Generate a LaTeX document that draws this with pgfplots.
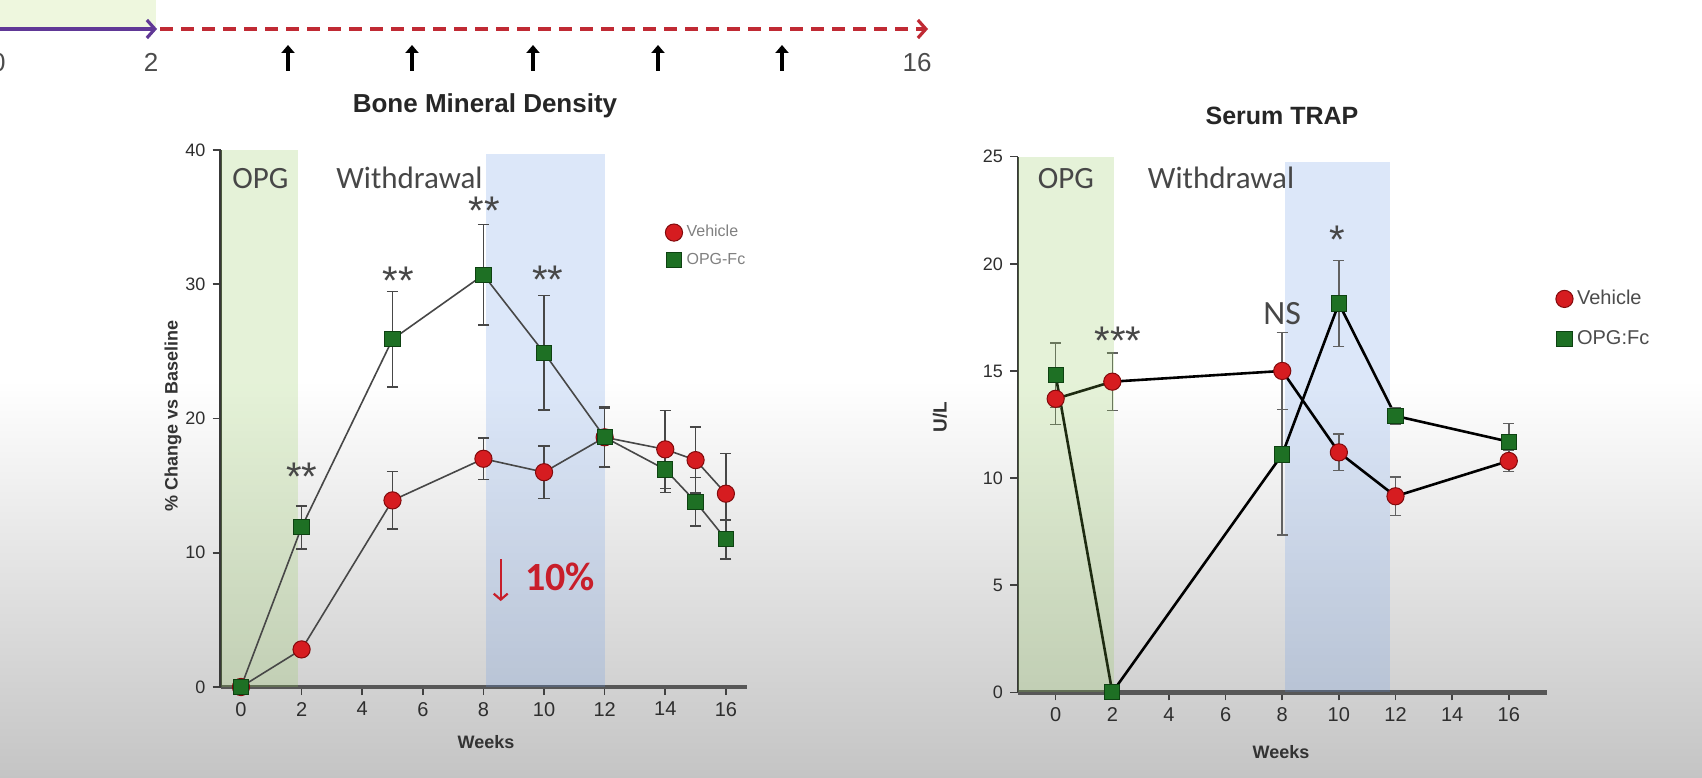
\documentclass[border=0pt]{standalone}
\usepackage{fontspec}
\setmainfont{Liberation Sans}
\newfontfamily\calfont{Carlito}
\usepackage{pgfplots}
\usepackage{pgfplotstable}
\pgfplotsset{compat=1.18}
\usetikzlibrary{arrows.meta}

\definecolor{vred}{RGB}{214,28,32}
\definecolor{vredd}{RGB}{130,10,12}
\definecolor{ogreen}{RGB}{30,112,36}
\definecolor{ogreend}{RGB}{14,66,18}
\definecolor{bandgreen}{RGB}{140,200,80}
\definecolor{bandblue}{RGB}{100,150,230}
\definecolor{annred}{RGB}{200,30,42}
\definecolor{arrpurple}{RGB}{96,56,150}
\definecolor{arrred}{RGB}{192,42,52}
\definecolor{tintgreen}{RGB}{238,247,222}

% Bone mineral density, % change vs baseline (mean, SEM)
\pgfplotstableread{
wk val err
0  0.0  0.0
2  2.8  0.5
5  13.9 2.15
8  17.0 1.55
10 16.0 1.95
12 18.6 2.2
14 17.7 2.9
15 16.9 2.45
16 14.4 3.0
}\bmdveh
\pgfplotstableread{
wk val err
0  0.0  0.0
2  11.9 1.6
5  25.9 3.55
8  30.7 3.75
10 24.9 4.25
12 18.6 2.25
14 16.2 1.7
15 13.8 1.8
16 11.0 1.45
}\bmdopg
% Serum TRAP, U/L (mean, SEM)
\pgfplotstableread{
wk val err
0  13.7  1.2
2  14.5  1.35
8  15.0  1.8
10 11.2  0.85
12 9.15  0.9
16 10.8  0.5
}\trapveh
\pgfplotstableread{
wk val err
0  14.8  1.5
2  0.0   0.0
8  11.1  3.75
10 18.15 2.0
12 12.9  0.4
16 11.7  0.85
}\trapopg

\tikzset{
  starlabel/.style={font=\fontsize{20}{24}\selectfont, text=black!72, yshift=-5pt},
  phaselabel/.style={font=\calfont\fontsize{15.5}{18}\selectfont, text=black!72},
}
\pgfplotsset{
  weekaxis/.style={
    scale only axis, clip=false,
    axis x line*=bottom, axis y line*=left,
    axis line style={-},
    x axis line style={line width=2.3pt, color=black!66},
    y axis line style={line width=1.1pt, color=black!78},
    tick align=outside, major tick length=4pt,
    tick style={line width=0.8pt, color=black!75},
    xtick={0,2,...,16},
    /pgf/number format/assume math mode=true,
    xticklabel style={font=\fontsize{10}{12}\selectfont, text=black!82},
    yticklabel style={font=\fontsize{9}{11}\selectfont, text=black!82},
    legend cell align=left,
  },
  marksveh/.style={mark=*, mark size=4.3pt,
    mark options={fill=vred, draw=vredd, line width=0.5pt, solid}},
  marksopg/.style={mark=square*, mark size=3.8pt,
    mark options={fill=ogreen, draw=ogreend, line width=0.5pt, solid}},
  sembars/.style={error bars/.cd, y dir=both, y explicit,
    error mark=-,
    error bar style={line width=0.8pt, color=#1},
    error mark options={rotate=90, line width=0.8pt, mark size=2.8pt, color=#1}},
}

\begin{document}
\begin{tikzpicture}
\path[use as bounding box] (0pt,0pt) rectangle (851pt,388.5pt);
\clip (0pt,0pt) rectangle (851pt,388.5pt);

% page background
\fill[white] (0pt,0pt) rectangle (851pt,388.5pt);
\shade[top color=white, bottom color=black!23] (0pt,0pt) rectangle (851pt,198.5pt);

% dosing timeline
\fill[tintgreen] (0pt,375pt) rectangle (78pt,388.5pt);
\draw[arrpurple, line width=1.6pt, -{Straight Barb[length=4pt,width=9pt]}]
  (0pt,374pt) -- (78.5pt,374pt);
\draw[arrred, line width=1.6pt, dash pattern=on 6.5pt off 4pt,
  -{Straight Barb[length=4pt,width=9pt]}] (80pt,374pt) -- (464pt,374pt);
\foreach \x in {144,206,266.5,329,391}
  \draw[black, line width=2pt, -{Triangle[length=4pt,width=6.5pt]}]
    (\x pt,353pt) -- (\x pt,366pt);
\node[anchor=base east, font=\fontsize{13}{15}\selectfont, text=black!70, inner sep=0pt]
  at (3pt,352.5pt) {0};
\node[anchor=base, font=\fontsize{13}{15}\selectfont, text=black!70] at (75.5pt,352.5pt) {2};
\node[anchor=base, font=\fontsize{13}{15}\selectfont, text=black!70] at (458.5pt,352.5pt) {16};

% ---------------- Bone mineral density ----------------
\begin{axis}[weekaxis,
  at={(110.25pt,45pt)}, anchor=south west,
  width=263pt, height=268.5pt,
  xmin=-0.675, xmax=16.68, ymin=0, ymax=40,
  ytick={0,10,...,40},
  legend style={at={(0.845,0.868)}, anchor=north west, draw=none, fill=none,
    inner sep=0pt, row sep=2.7pt,
    font=\fontsize{8}{9}\selectfont, nodes={text=black!50}},
]
\fill[bandgreen, fill opacity=0.22] (axis cs:-0.675,0) rectangle (axis cs:1.89,40);
\fill[bandblue, fill opacity=0.22] (axis cs:8.08,0) rectangle (axis cs:12.0,39.7);

\addplot[forget plot, color=black!72, line width=0.8pt, marksveh, sembars=black!72]
  table[x=wk, y=val, y error=err] {\bmdveh};
\addplot[forget plot, color=black!72, line width=0.8pt, marksopg, sembars=black!72]
  table[x=wk, y=val, y error=err] {\bmdopg};

\addlegendimage{only marks, marksveh}
\addlegendentry{Vehicle}
\addlegendimage{only marks, marksopg}
\addlegendentry{OPG-Fc}

\node[phaselabel] at (axis cs:0.64,37.85) {OPG};
\node[phaselabel] at (axis cs:5.56,37.9) {Withdrawal};
\node[starlabel] at (axis cs:2,16.4) {**};
\node[starlabel] at (axis cs:5.2,31.0) {**};
\node[starlabel] at (axis cs:8.03,36.2) {**};
\node[starlabel] at (axis cs:10.13,31.05) {**};
\draw[annred, line width=1.1pt, -{Straight Barb[length=3pt,width=7pt]}]
  (axis cs:8.57,9.5) -- (axis cs:8.57,6.4);
\node[font=\calfont\bfseries\fontsize{20}{24}\selectfont, text=annred]
  at (axis cs:10.53,8.2) {10\%};
\end{axis}

% ---------------- Serum TRAP ----------------
\begin{axis}[weekaxis,
  at={(509pt,42.35pt)}, anchor=south west,
  width=264.5pt, height=267.8pt,
  xmin=-1.33, xmax=17.35, ymin=0, ymax=25,
  ytick={0,5,...,25},
  legend style={at={(1.016,0.759)}, anchor=north west, draw=none, fill=none,
    inner sep=0pt, row sep=7.5pt,
    font=\fontsize{10}{12}\selectfont, nodes={text=black!70}},
]
\fill[bandblue, fill opacity=0.22] (axis cs:8.1,0) rectangle (axis cs:11.8,24.77);

\addplot[forget plot, color=black, line width=1.3pt, marksveh, sembars=black!62]
  table[x=wk, y=val, y error=err] {\trapveh};
\addplot[forget plot, color=black, line width=1.3pt, marksopg, sembars=black!62]
  table[x=wk, y=val, y error=err] {\trapopg};

% treatment window shading laid over the early points
\fill[bandgreen, fill opacity=0.22] (axis cs:-1.33,0) rectangle (axis cs:2.05,25);

\addlegendimage{only marks, marksveh}
\addlegendentry{Vehicle}
\addlegendimage{only marks, marksopg}
\addlegendentry{OPG:Fc}

\node[phaselabel] at (axis cs:0.36,24.0) {OPG};
\node[phaselabel] at (axis cs:5.84,24.0) {Withdrawal};
\node[starlabel] at (axis cs:2.2,16.87) {***};
\node[font=\calfont\fontsize{17}{20}\selectfont, text=black!72] at (axis cs:8.0,17.7) {NS};
\node[starlabel] at (axis cs:9.93,21.6) {*};
\end{axis}

% titles and axis labels
\node[anchor=base, font=\bfseries\fontsize{13}{15}\selectfont, text=black!85]
  at (242.5pt,332pt) {Bone Mineral Density};
\node[anchor=base, font=\bfseries\fontsize{12.5}{15}\selectfont, text=black!85]
  at (641pt,326pt) {Serum TRAP};
\node[rotate=90, font=\bfseries\fontsize{9}{11}\selectfont, text=black!80]
  at (86.5pt,180.5pt) {\% Change vs Baseline};
\node[rotate=90, font=\bfseries\fontsize{9.5}{11}\selectfont, text=black!80]
  at (470pt,180pt) {U/L};
\node[anchor=base, font=\bfseries\fontsize{9}{11}\selectfont, text=black!80]
  at (243pt,14.5pt) {Weeks};
\node[anchor=base, font=\bfseries\fontsize{9}{11}\selectfont, text=black!80]
  at (640.5pt,9.5pt) {Weeks};
\end{tikzpicture}
\end{document}
